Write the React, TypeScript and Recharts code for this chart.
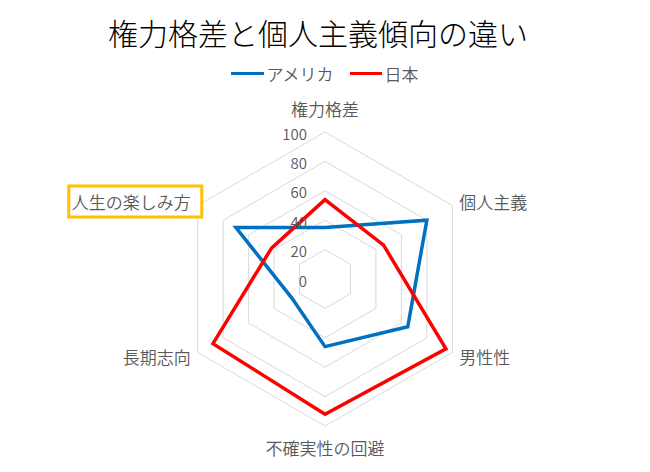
import React from "react";
import { RadarChart, Radar, PolarGrid, PolarAngleAxis, PolarRadiusAxis, Legend } from "recharts";

const categories = ["権力格差", "個人主義", "男性性", "不確実性の回避", "長期志向", "人生の楽しみ方"];
const usaValues = [35, 80, 65, 46, 26, 70];
const japanValues = [54, 46, 95, 92, 88, 42];
const radiusTicks = [0, 20, 40, 60, 80, 100];
const seriesNames = ["アメリカ", "日本"];
const highlighted = "人生の楽しみ方";

const data = categories.map((c, i) => ({ name: c, usa: usaValues[i], japan: japanValues[i] }));

const FONT = '"Noto Sans CJK JP", "Noto Sans", sans-serif';
const GRAY = "#595959";
const BLUE = "#0070C0";
const RED = "#FF0000";
const LABEL_WEIGHT = 350;

const AngleTick = (props: any) => {
  const { x, y, payload, cx } = props;
  const label = String(payload.value);
  const fs = 17;
  let anchor: "start" | "middle" | "end" = "middle";
  let ty = y;
  if (Math.abs(x - cx) < 2) {
    anchor = "middle";
    ty = y < props.cy ? y - 16 : y + 13;
  } else if (x > cx) {
    anchor = "start";
  } else {
    anchor = "end";
  }
  const w = label.length * fs;
  return (
    <g>
      {label === highlighted && (
        <rect x={x - w - 3} y={ty - 15.5} width={w + 14} height={31} fill="#fff" stroke="#FFC000" strokeWidth={3} />
      )}
      <text x={x} y={ty} textAnchor={anchor} dominantBaseline="central" fontSize={fs} fill={GRAY} fontFamily={FONT} fontWeight={LABEL_WEIGHT}>
        {label}
      </text>
    </g>
  );
};

const RadiusTick = (props: any) => {
  const { x, y, payload } = props;
  return (
    <text x={x - 18} y={y + 1} textAnchor="end" dominantBaseline="central" fontSize={15} fill={GRAY} fontFamily={FONT} fontWeight={LABEL_WEIGHT}>
      {payload.value}
    </text>
  );
};

const LegendContent = () => (
  <div style={{ display: "flex", justifyContent: "center", alignItems: "center", fontFamily: FONT, fontSize: 17, color: GRAY, fontWeight: LABEL_WEIGHT }}>
    <span style={{ display: "inline-block", width: 33, height: 3, background: BLUE, marginRight: 2 }} />
    <span style={{ marginRight: 16 }}>{seriesNames[0]}</span>
    <span style={{ display: "inline-block", width: 32, height: 3, background: RED, marginRight: 3 }} />
    <span>{seriesNames[1]}</span>
  </div>
);

export default function App() {
  return (
    <div style={{ position: "absolute", left: 0, top: 0, width: 650, height: 472, background: "#fff" }}>
      <div
        style={{
          position: "absolute",
          left: 0,
          top: 12,
          width: 636,
          textAlign: "center",
          fontFamily: FONT,
          fontSize: 30,
          fontWeight: 300,
          color: "#000",
          lineHeight: "40px",
        }}
      >
        権力格差と個人主義傾向の違い
      </div>
      <RadarChart width={650} height={472} data={data} cx={325} cy={279} outerRadius={147} startAngle={90} endAngle={-270}>
        <PolarGrid gridType="polygon" radialLines={false} stroke="#D9D9D9" />
        <PolarAngleAxis dataKey="name" tick={<AngleTick />} tickLine={false} axisLine={false} />
        <PolarRadiusAxis
          angle={90}
          domain={[0, 100]}
          ticks={radiusTicks as any}
          tickCount={6}
          axisLine={false}
          tickLine={false}
          tick={<RadiusTick />}
        />
        <Radar name={seriesNames[0]} dataKey="usa" stroke={BLUE} strokeWidth={3.5} fill="none" fillOpacity={0} dot={false} isAnimationActive={false} />
        <Radar name={seriesNames[1]} dataKey="japan" stroke={RED} strokeWidth={3.5} fill="none" fillOpacity={0} dot={false} isAnimationActive={false} />
        <Legend content={<LegendContent />} wrapperStyle={{ position: "absolute", top: 61, left: 0, width: 650, height: 26 }} />
      </RadarChart>
    </div>
  );
}
